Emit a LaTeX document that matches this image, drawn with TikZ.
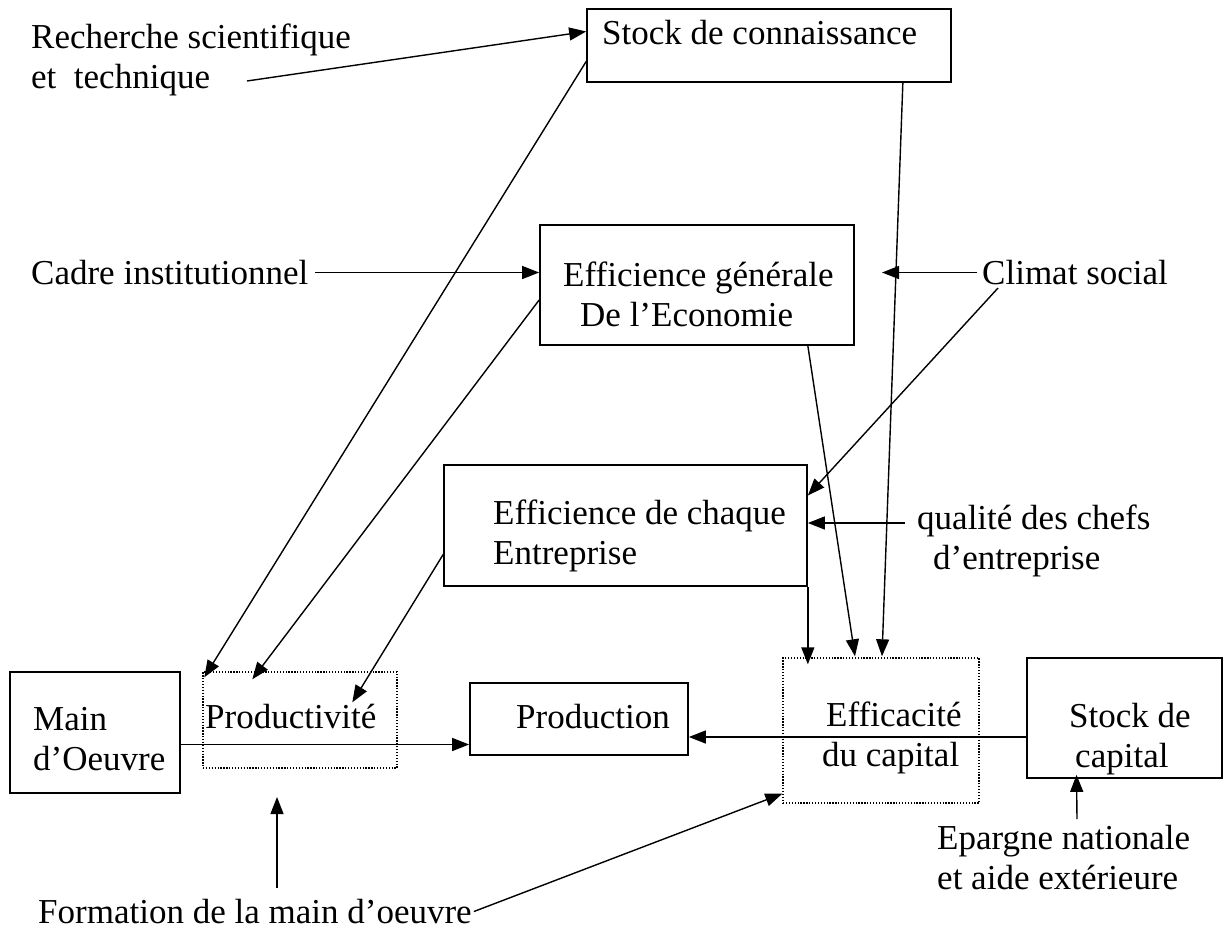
\documentclass[tikz,border=0pt]{standalone}
\usepackage{fontspec}
\setmainfont{Liberation Serif}
\usetikzlibrary{arrows.meta, positioning}

\tikzset{
  boite/.style={draw, line width=1.7pt, inner sep=0pt},
  pointille/.style={draw, line width=1.4pt, dash pattern=on 1.3pt off 1.6pt, inner sep=0pt},
  txt/.style={inner sep=0pt, anchor=north west, align=left, font=\fontsize{35}{40}\selectfont},
  fleche/.style={line width=1.4pt, -{Triangle[length=17pt,width=13pt]}}
}

\begin{document}
\begin{tikzpicture}[x=1pt, y=-1pt]
  \useasboundingbox (0,0) rectangle (1226,929);
  % Boites
  \node[boite, minimum width=364pt, minimum height=73pt] (stockc) at (769,45.5) {};
  \node[boite, minimum width=314pt, minimum height=120pt] (effg) at (697,285) {};
  \node[boite, minimum width=363pt, minimum height=121pt] (effc) at (625.5,525.5) {};
  \node[boite, minimum width=170pt, minimum height=121pt] (main) at (95,732.5) {};
  \node[pointille, minimum width=194pt, minimum height=96pt] (prodv) at (300,720) {};
  \node[boite, minimum width=218pt, minimum height=72pt] (prodn) at (579,719) {};
  \node[pointille, minimum width=196pt, minimum height=145pt] (effca) at (881,730.5) {};
  \node[boite, minimum width=195pt, minimum height=120pt] (stockk) at (1124.5,718) {};
  % Textes
  \node[txt] (rech) at (31,24) {Recherche scientifique\\et~ technique};
  \node[txt] (stockct) at (602,20) {Stock de connaissance};
  \node[txt] (cadre) at (31,260) {Cadre institutionnel};
  \node[txt] (effgt) at (563,262) {Efficience générale\\\hspace*{17pt}De l’Economie};
  \node[txt] (climat) at (982,260) {Climat social};
  \node[txt] (effct) at (493,500) {Efficience de chaque\\Entreprise};
  \node[txt] (qual) at (917,505) {qualité des chefs\\\hspace*{16pt}d’entreprise};
  \node[txt] (maint) at (33,707) {Main\\d’Oeuvre};
  \node[txt] (prodt) at (205,704) {Productivité};
  \node[txt] (prodnt) at (516,704) {Production};
  \node[txt] (effcat) at (826,702) {Efficacité\\\hspace*{-4pt}du capital};
  \node[txt] (stockkt) at (1069,703) {Stock de\\\hspace*{6pt}capital};
  \node[txt] (epar) at (937,825) {Epargne nationale\\et aide extérieure};
  \node[txt] (form) at (38,899) {Formation de la main d’oeuvre};
  % Points libres
  \coordinate (rechfin) at (247,81);
  \coordinate (climatfin) at (882,273);
  \coordinate (qualdep) at (905,523);
  \coordinate (prodvbas) at (277,797);
  % Fleches
  \draw[fleche] (rechfin) -- ([yshift=14pt]stockc.west);
  \draw[fleche] ([yshift=-16pt]stockc.west) -- ([xshift=2pt,yshift=-6pt]prodv.north west);
  \draw[fleche] ([xshift=7pt]cadre.east) -- (cadre.east -| effg.west);
  \draw[fleche] ([xshift=-5pt]climat.west) -- (climat.west -| climatfin);
  \draw[fleche] ([xshift=16pt,yshift=-3pt]climat.south west) -- ([yshift=30pt]effc.east);
  \draw[fleche] (qualdep) -- (qualdep -| effc.east);
  \draw[fleche] ([yshift=-15pt]effg.west) -- ([xshift=50pt,yshift=-8pt]prodv.north west);
  \draw[fleche] ([yshift=-29pt]effc.west) -- ([xshift=150pt,yshift=-31pt]prodv.north west);
  \draw[fleche] ([xshift=-47pt]effg.south east) -- ([xshift=-26pt,yshift=1pt]effca.north);
  \draw[fleche] ([xshift=-49pt]stockc.south east) -- ([xshift=1pt,yshift=1pt]effca.north);
  \draw[fleche, shorten >=-7pt] (effc.south east) -- (effc.south east |- effca.north);
  \draw[fleche] ([yshift=-12pt]main.east) -- ([yshift=-12pt]main.east -| prodn.west);
  \draw[fleche] ([yshift=-19pt]stockk.west) -- ([yshift=-19pt]stockk.west -| prodn.east);
  \draw[fleche] ([yshift=11pt]form.north -| prodvbas) -- (prodvbas);
  \draw[fleche] ([xshift=2pt]form.east) -- ([yshift=10pt]effca.south west);
  \draw[fleche] ([xshift=140pt,yshift=6pt]epar.north west) -- ([xshift=-48pt,yshift=4pt]stockk.south);
\end{tikzpicture}
\end{document}
